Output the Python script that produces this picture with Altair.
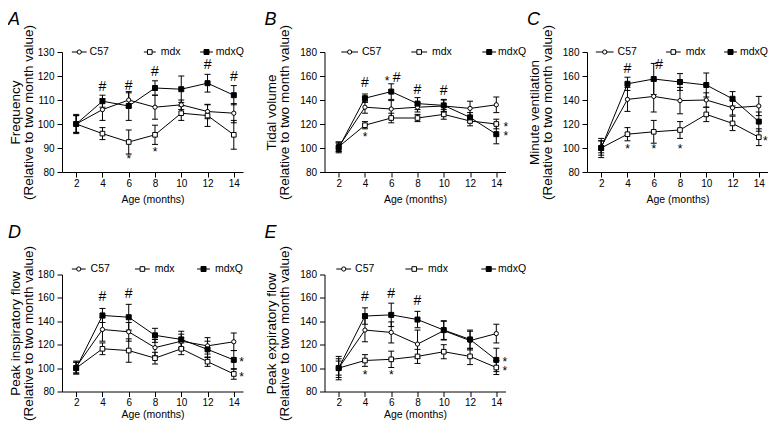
import altair as alt
import pandas as pd

AGES = [2, 4, 6, 8, 10, 12, 14]
SERIES = ["C57", "mdx", "mdxQ"]

# Panel A - Frequency
A_C57 = [100, 106, 110, 107, 108, 105.2, 104.5]
A_C57_ERR = [3.5, 4.5, 3, 5, 2, 3, 4]
A_MDX = [100, 96, 92.5, 95.5, 104.5, 103.5, 95.5]
A_MDX_ERR = [3.5, 2.5, 5, 4, 3, 4.5, 6]
A_MDXQ = [100, 109.5, 107.5, 115, 114.5, 117, 112]
A_MDXQ_ERR = [4, 2.5, 6, 3, 5.5, 3.7, 4]
A_HASH_X = [4, 6, 8, 12, 14]
A_HASH_Y = [115.5, 116, 121.5, 124.5, 119.5]
A_STAR_X = [6, 8]
A_STAR_Y = [86.5, 89.5]

# Panel B - Tidal volume
B_C57 = [101, 134, 132.5, 134, 135, 133, 136]
B_C57_ERR = [4, 5, 7, 4, 5, 6, 6.5]
B_MDX = [101, 119, 125, 125, 128, 122.5, 120]
B_MDX_ERR = [4, 3, 4, 3, 4, 4, 4]
B_MDXQ = [100, 141.5, 147, 137, 135.5, 125.5, 111.5]
B_MDXQ_ERR = [4, 3.5, 6.5, 5, 5, 4, 8]
B_HASH_X = [4, 6.42, 8, 10]
B_HASH_Y = [154.5, 158.5, 148, 147.5]
B_STAR_X = [5.68, 4, 14.72, 14.72]
B_STAR_Y = [158.5, 112, 120, 112.5]

# Panel C - Minute ventilation
C_C57 = [101, 140.5, 143, 139.5, 140, 133.5, 135]
C_C57_ERR = [5, 10, 13, 11, 6, 6, 8]
C_MDX = [100, 111.5, 113.5, 115, 128, 120.5, 109]
C_MDX_ERR = [8, 5.5, 9.5, 7, 6, 6, 7]
C_MDXQ = [100, 153.5, 157.5, 155, 152.5, 141, 122]
C_MDXQ_ERR = [6, 5.5, 13, 7, 10, 6, 8]
C_HASH_X = [4, 6.42]
C_HASH_Y = [165.5, 169.5]
C_STAR_X = [4, 6, 8, 14.5]
C_STAR_Y = [101.5, 101.5, 102, 108.5]

# Panel D - Peak inspiratory flow
D_C57 = [101, 133, 131, 117.5, 123, 119, 122.5]
D_C57_ERR = [5, 10, 8, 7, 6, 7, 7.5]
D_MDX = [100, 116.5, 115, 108.5, 116.5, 105.5, 95]
D_MDX_ERR = [5, 5, 10, 5, 5, 4, 4.5]
D_MDXQ = [100, 145, 143.5, 128, 124.5, 116, 107]
D_MDXQ_ERR = [5, 6, 11, 6, 7, 7, 8]
D_HASH_X = [4, 6]
D_HASH_Y = [160.5, 163]
D_STAR_X = [14.6, 14.6]
D_STAR_Y = [107.5, 95]

# Panel E - Peak expiratory flow
E_C57 = [100, 132.5, 130.5, 120.5, 132, 123.5, 129.5]
E_C57_ERR = [8, 10, 9, 12, 8, 8, 8]
E_MDX = [100, 106.5, 107.5, 110, 114, 110, 100.5]
E_MDX_ERR = [6, 5, 7, 6, 6, 7, 6]
E_MDXQ = [100, 144.5, 145.5, 141.5, 132.5, 124.5, 107]
E_MDXQ_ERR = [10, 7, 10, 7, 8, 8, 10]
E_HASH_X = [4, 6, 8]
E_HASH_Y = [160.5, 163, 157.5]
E_STAR_X = [4, 6, 14.64, 14.64]
E_STAR_Y = [97, 97, 107.5, 100.5]

FONT = "Liberation Sans"
W = 181
X_DOMAIN = [0.92, 14.7]
PX = (X_DOMAIN[1] - X_DOMAIN[0]) / W
LEG_SCALE = W / 183.5


def px2x(p):
    return X_DOMAIN[0] + p * LEG_SCALE * PX


def make_panel(letter, title, ydom, yvals, means, errs, hx, hy, sx, sy,
               legend_px, legend_y, letter_x, letter_y, title_pad, height, x_title_pad):
    rows = []
    for s, m, e in zip(SERIES, means, errs):
        for a, v, d in zip(AGES, m, e):
            rows.append({"age": a, "series": s, "value": v, "lo": v - d, "hi": v + d})
    df = pd.DataFrame(rows)

    xscale = alt.Scale(domain=X_DOMAIN, nice=False, zero=False)
    yscale = alt.Scale(domain=ydom, nice=False, zero=False)
    xaxis = alt.Axis(values=[2, 4, 6, 8, 10, 12, 14], title="Age (months)", grid=False,
                     tickSize=5, labelPadding=1, titlePadding=x_title_pad)
    yaxis = alt.Axis(values=yvals, title=title, grid=False, tickSize=5, labelPadding=3,
                     titlePadding=title_pad)

    def X(f):
        return alt.X(f"{f}:Q", scale=xscale, axis=xaxis)

    def Y(f):
        return alt.Y(f"{f}:Q", scale=yscale, axis=yaxis)

    shape = alt.Shape("series:N", scale=alt.Scale(domain=SERIES, range=["circle", "square", "square"]), legend=None)
    fill = alt.Fill("series:N", scale=alt.Scale(domain=SERIES, range=["white", "white", "black"]), legend=None)
    size = alt.Size("series:N", scale=alt.Scale(domain=SERIES, range=[18, 25, 25]), legend=None)

    base = alt.Chart(df)
    lines = base.mark_line(color="black", strokeWidth=1).encode(x=X("age"), y=Y("value"), detail="series:N")
    rules = base.mark_rule(color="black", strokeWidth=1).encode(x=X("age"), y=Y("lo"), y2="hi:Q")
    cap_lo = base.mark_tick(orient="horizontal", size=6, thickness=1, color="black", opacity=1).encode(x=X("age"), y=Y("lo"))
    cap_hi = base.mark_tick(orient="horizontal", size=6, thickness=1, color="black", opacity=1).encode(x=X("age"), y=Y("hi"))
    pts = base.mark_point(filled=True, opacity=1, stroke="black", strokeWidth=1).encode(
        x=X("age"), y=Y("value"), shape=shape, fill=fill, size=size)

    leg = pd.DataFrame({
        "series": SERIES,
        "lx1": [px2x(p[0]) for p in legend_px],
        "lx2": [px2x(p[1]) for p in legend_px],
        "lxm": [px2x((p[0] + p[1]) / 2) for p in legend_px],
        "ltx": [px2x(p[2]) for p in legend_px],
    })
    lbase = alt.Chart(leg)
    leg_rule = lbase.mark_rule(color="black", strokeWidth=1).encode(x=X("lx1"), x2="lx2:Q", y=alt.value(legend_y))
    leg_pt = lbase.mark_point(filled=True, opacity=1, stroke="black", strokeWidth=1).encode(
        x=X("lxm"), y=alt.value(legend_y), shape=shape, fill=fill, size=size)
    leg_txt = lbase.mark_text(align="left", baseline="middle", fontSize=10.5, color="black").encode(
        x=X("ltx"), y=alt.value(legend_y), text="series:N")

    hdf = pd.DataFrame({"x": hx, "y": hy, "s": ["#"] * len(hx)})
    sdf = pd.DataFrame({"x": sx, "y": sy, "s": ["*"] * len(sx)})
    hashes = alt.Chart(hdf).mark_text(fontSize=14, baseline="middle", color="black").encode(
        x=X("x"), y=Y("y"), text="s:N")
    stars = alt.Chart(sdf).mark_text(fontSize=12, baseline="middle", dy=3, color="black").encode(
        x=X("x"), y=Y("y"), text="s:N")

    ldf = pd.DataFrame({"l": [letter]})
    let = alt.Chart(ldf).mark_text(align="left", baseline="alphabetic", fontSize=18,
                                   fontStyle="italic", color="black").encode(
        x=alt.value(letter_x), y=alt.value(letter_y), text="l:N")

    return alt.layer(lines, rules, cap_lo, cap_hi, pts, leg_rule, leg_pt, leg_txt,
                     hashes, stars, let).properties(width=W, height=height)


pA = make_panel("A", ["Frequency", "(Relative to two month value)"], [80, 130], [80, 90, 100, 110, 120, 130],
                [A_C57, A_MDX, A_MDXQ], [A_C57_ERR, A_MDX_ERR, A_MDXQ_ERR],
                A_HASH_X, A_HASH_Y, A_STAR_X, A_STAR_Y,
                [(10, 25, 28), (83, 95, 100), (140, 153, 156)], 0, -54, -27, 2, 120, 6)
pB = make_panel("B", ["Tidal volume", "(Relative to two month value)"], [80, 180], [80, 100, 120, 140, 160, 180],
                [B_C57, B_MDX, B_MDXQ], [B_C57_ERR, B_MDX_ERR, B_MDXQ_ERR],
                B_HASH_X, B_HASH_Y, B_STAR_X, B_STAR_Y,
                [(17, 34, 38), (88, 104, 109), (160, 174, 176)], 0, -60, -27, 8, 120, 6)
pC = make_panel("C", ["Minute ventilation", "(Relative to two month value)"], [80, 180], [80, 100, 120, 140, 160, 180],
                [C_C57, C_MDX, C_MDXQ], [C_C57_ERR, C_MDX_ERR, C_MDXQ_ERR],
                C_HASH_X, C_HASH_Y, C_STAR_X, C_STAR_Y,
                [(9, 27, 31), (80, 95, 100), (139, 152, 155)], 0, -60, -27, 8, 120, 6)
pD = make_panel("D", ["Peak inspiratory flow", "(Relative to two month value)"], [80, 180], [80, 100, 120, 140, 160, 180],
                [D_C57, D_MDX, D_MDXQ], [D_C57_ERR, D_MDX_ERR, D_MDXQ_ERR],
                D_HASH_X, D_HASH_Y, D_STAR_X, D_STAR_Y,
                [(10, 24, 29), (74, 89, 94), (137, 150, 155)], -5.5, -54, -37, 2, 117, 2)
pE = make_panel("E", ["Peak expiratory flow", "(Relative to two month value)"], [80, 180], [80, 100, 120, 140, 160, 180],
                [E_C57, E_MDX, E_MDXQ], [E_C57_ERR, E_MDX_ERR, E_MDXQ_ERR],
                E_HASH_X, E_HASH_Y, E_STAR_X, E_STAR_Y,
                [(12, 27, 31), (82, 100, 105), (159, 174, 176)], -5.5, -60, -37, 8, 117, 2)

chart = alt.concat(pA, pB, pC, pD, pE, columns=3, bounds="flush",
                   spacing={"row": 102.5, "column": 81.5}).properties(
    padding={"left": 0, "top": 3, "right": 0, "bottom": 0}
).configure_view(stroke=None).configure_axis(
    labelFont=FONT, titleFont=FONT, labelFontSize=10, titleFontSize=10.5,
    titleFontWeight="normal", labelColor="black", titleColor="black",
    domainColor="black", tickColor="black", domainWidth=1, tickWidth=1
).configure_axisY(
    titleFontSize=13.5, titleLineHeight=13
).configure_text(font=FONT)

chart.save("out.html", embed_options={"renderer": "svg", "actions": False})
